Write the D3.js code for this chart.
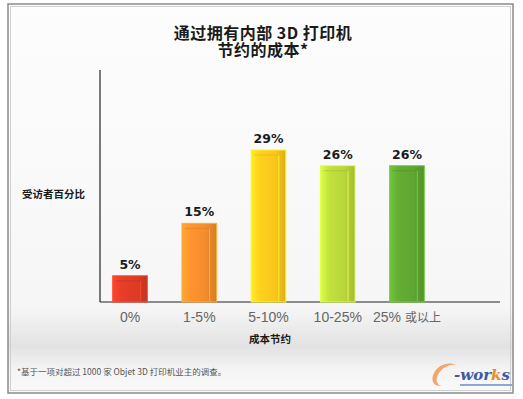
<!DOCTYPE html>
<html>
<head>
<meta charset="utf-8">
<script src="https://cdn.jsdelivr.net/npm/d3@7"></script>
<style>
  body { margin: 0; background: #fff; }
  svg { display: block; }
</style>
</head>
<body>
<div id="chart"></div>
<script>
// données
var categories = ["0%", "1-5%", "5-10%", "10-25%", "25% 或以上"];
var values = [5, 15, 29, 26, 26];
var barColors = ["#dc3b26", "#f28c2c", "#f9c61c", "#b8d53a", "#5ea531"];
var titleLines = ["通过拥有内部 3D 打印机", "节约的成本*"];

var W = 523, H = 399;
var fontCJK = "'Noto Sans CJK SC', 'Noto Sans', sans-serif";

var svg = d3.select("#chart").append("svg")
    .attr("width", W)
    .attr("height", H);

var defs = svg.append("defs");

// fond dégradé
var bg = defs.append("linearGradient").attr("id", "bg")
    .attr("x1", 0).attr("y1", 0).attr("x2", 0).attr("y2", 1);
bg.append("stop").attr("offset", "0%").attr("stop-color", "#fdfdfd");
bg.append("stop").attr("offset", "78%").attr("stop-color", "#f6f6f6");
bg.append("stop").attr("offset", "88%").attr("stop-color", "#e2e2e2");
bg.append("stop").attr("offset", "94%").attr("stop-color", "#f4f4f4");
bg.append("stop").attr("offset", "100%").attr("stop-color", "#fafafa");

svg.append("rect")
    .attr("x", 0).attr("y", 0).attr("width", W).attr("height", H)
    .attr("fill", "#ffffff");
svg.append("rect")
    .attr("x", 8).attr("y", 4).attr("width", 505).attr("height", 389)
    .attr("fill", "url(#bg)")
    .attr("stroke", "#8a8a8a")
    .attr("stroke-width", 1.5);
svg.append("rect")
    .attr("x", 10.5).attr("y", 6.5).attr("width", 500).attr("height", 384)
    .attr("fill", "none")
    .attr("stroke", "#d0d0d0")
    .attr("stroke-width", 1);

// dégradés des barres
barColors.forEach(function (c, i) {
    var g = defs.append("linearGradient").attr("id", "bar" + i)
        .attr("x1", 0).attr("y1", 0).attr("x2", 1).attr("y2", 0);
    var col = d3.color(c);
    g.append("stop").attr("offset", "0%").attr("stop-color", col.brighter(0.5));
    g.append("stop").attr("offset", "25%").attr("stop-color", col.brighter(0.15));
    g.append("stop").attr("offset", "70%").attr("stop-color", c);
    g.append("stop").attr("offset", "100%").attr("stop-color", col.darker(0.35));
});

// échelles
var x = d3.scaleBand()
    .domain(categories)
    .range([95.4, 441.6])
    .paddingInner(0.5)
    .paddingOuter(0.25);

var y = d3.scaleLinear()
    .domain([0, 29])
    .range([302, 150]);

// titre, une ligne par texte
svg.append("g").selectAll("text")
    .data(titleLines)
    .enter()
    .append("text")
    .attr("x", 263)
    .attr("y", function (d, i) { return 39 + i * 17; })
    .attr("text-anchor", "middle")
    .style("font-family", fontCJK)
    .style("font-size", "16px")
    .style("font-weight", "bold")
    .style("letter-spacing", "0.5px")
    .style("fill", "#1a1a1a")
    .text(function (d) { return d; });

// axe Y (ligne seule)
svg.append("line")
    .attr("x1", 100).attr("x2", 100)
    .attr("y1", 70).attr("y2", y(0))
    .attr("stroke", "#222").attr("stroke-width", 1.2);

// axe X
var xAxis = svg.append("g")
    .attr("transform", "translate(0," + y(0) + ")")
    .call(d3.axisBottom(x).tickSize(0).tickPadding(10));
xAxis.select(".domain").attr("d", "M100,0H500").attr("stroke", "#222").attr("stroke-width", 1.2);
xAxis.selectAll("text")
    .style("font-family", "'Liberation Sans', 'Noto Sans CJK SC', sans-serif")
    .style("font-size", "14px")
    .style("fill", "#666");
xAxis.selectAll(".tick text")
    .filter(function (d) { return d.indexOf("或") >= 0; })
    .html("")
    .each(function (d) {
        var t = d3.select(this);
        var parts = d.split(" ");
        t.append("tspan").text(parts[0]);
        t.append("tspan").attr("dx", 4)
            .style("font-family", fontCJK)
            .style("font-size", "12px")
            .text(parts[1]);
    });

// barres
var bars = svg.append("g").selectAll("g")
    .data(values)
    .enter()
    .append("g");

bars.append("rect")
    .attr("x", function (d, i) { return x(categories[i]); })
    .attr("y", function (d) { return y(d); })
    .attr("width", x.bandwidth())
    .attr("height", function (d) { return y(0) - y(d); })
    .attr("fill", function (d, i) { return "url(#bar" + i + ")"; })
    .attr("stroke", function (d, i) { return d3.color(barColors[i]).brighter(0.6); })
    .attr("stroke-width", 1);

// reflet intérieur
bars.append("line")
    .attr("x1", function (d, i) { return x(categories[i]) + x.bandwidth() - 7; })
    .attr("x2", function (d, i) { return x(categories[i]) + x.bandwidth() - 7; })
    .attr("y1", function (d) { return y(d) + 5; })
    .attr("y2", y(0) - 1)
    .attr("stroke", function (d, i) { return d3.color(barColors[i]).brighter(0.8); })
    .attr("stroke-width", 1)
    .attr("opacity", 0.8);
bars.append("line")
    .attr("x1", function (d, i) { return x(categories[i]) + 3; })
    .attr("x2", function (d, i) { return x(categories[i]) + x.bandwidth() - 7; })
    .attr("y1", function (d) { return y(d) + 5; })
    .attr("y2", function (d) { return y(d) + 5; })
    .attr("stroke", function (d, i) { return d3.color(barColors[i]).darker(0.3); })
    .attr("stroke-width", 1)
    .attr("opacity", 0.6);

// étiquettes de valeur
bars.append("text")
    .attr("x", function (d, i) { return x(categories[i]) + x.bandwidth() / 2; })
    .attr("y", function (d) { return y(d) - 7; })
    .attr("text-anchor", "middle")
    .style("font-family", "'DejaVu Sans', sans-serif")
    .style("font-size", "12.5px")
    .style("font-weight", "bold")
    .style("fill", "#1a1a1a")
    .text(function (d) { return d + "%"; });

// titres d'axes
svg.append("text")
    .attr("x", 22).attr("y", 198)
    .style("font-family", fontCJK)
    .style("font-size", "10.5px")
    .style("font-weight", "bold")
    .style("fill", "#1a1a1a")
    .text("受访者百分比");

svg.append("text")
    .attr("x", 270).attr("y", 343)
    .attr("text-anchor", "middle")
    .style("font-family", fontCJK)
    .style("font-size", "10.5px")
    .style("font-weight", "bold")
    .style("fill", "#1a1a1a")
    .text("成本节约");

// note
svg.append("text")
    .attr("x", 17).attr("y", 375)
    .style("font-family", fontCJK)
    .style("font-size", "8.5px")
    .style("fill", "#555")
    .text("*基于一项对超过 1000 家 Objet 3D 打印机业主的调查。");

// logo e-works : le "C" est dessiné comme un arc
var logo = svg.append("g").attr("transform", "translate(430,385)");
logo.append("path")
    .attr("d", "M26,-20 C18,-24 8,-20 4,-12 C0,-4 4,2 12,1 C6,0 5,-6 9,-12 C13,-18 20,-21 26,-20 Z")
    .attr("fill", "#f2a66c");
var lt = logo.append("text")
    .attr("x", 24).attr("y", -5)
    .style("font-family", "'DejaVu Serif', serif")
    .style("font-size", "15px")
    .style("font-weight", "bold")
    .style("font-style", "italic");
lt.append("tspan").style("fill", "#3b5aa6").text("-wor");
lt.append("tspan").style("fill", "#f08a2a").text("k");
lt.append("tspan").style("fill", "#3b5aa6").text("s");
logo.append("rect")
    .attr("x", 30).attr("y", -1).attr("width", 52).attr("height", 2)
    .attr("fill", "#8fa6d8");
</script>
</body>
</html>
